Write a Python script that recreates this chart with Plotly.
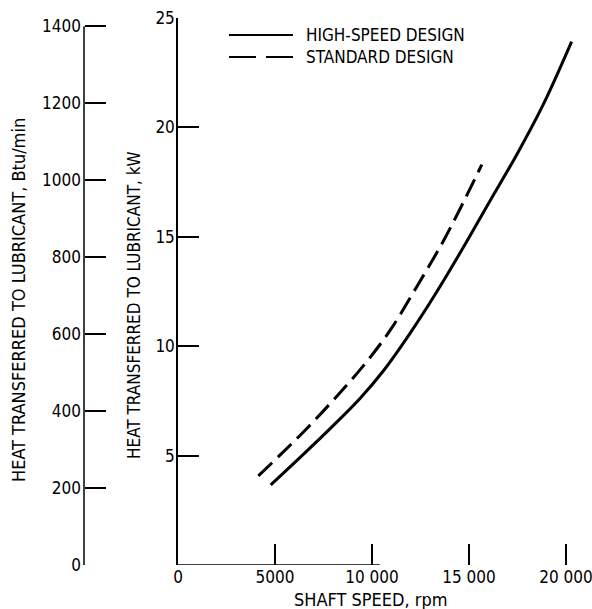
import plotly.graph_objects as go

# ---- data ----
series_names = ["HIGH-SPEED DESIGN", "STANDARD DESIGN"]
high_rpm = [4780, 6500, 8000, 9380, 10600, 11960, 13340, 14710, 16080, 17460, 18830, 20290]
high_kw = [3.66, 5.09, 6.37, 7.61, 8.89, 10.59, 12.49, 14.52, 16.64, 18.75, 21.05, 23.92]
std_rpm = [4140, 5430, 6630, 8000, 9550, 10930, 12300, 13680, 14710, 15660]
std_kw = [4.07, 5.17, 6.23, 7.53, 9.10, 10.72, 12.71, 14.81, 16.58, 18.30]

x_tickvals = [0, 5000, 10000, 15000, 20000]
x_ticktext = ["0", "5000", "10 000", "15 000", "20 000"]
kw_tickvals = [5, 10, 15, 20, 25]
btu_tickvals = [0, 200, 400, 600, 800, 1000, 1200, 1400]
BTU_PER_KW = 56.87

FONT = "Liberation Sans Narrow, DejaVu Sans Condensed, Arial Narrow, sans-serif"
W, H = 592, 609
ML, MR, MT, MB = 0, 0, 18, 44
PH = H - MT - MB
x0_px = 178.0
px_per_rpm = 0.0194
x_max = (W - x0_px) / px_per_rpm


def px_x(px):
    return px / W


def px_y(py):
    return (H - MB - py) / PH


fig = go.Figure()
fig.add_trace(go.Scatter(x=high_rpm, y=high_kw, mode="lines", name=series_names[0],
                         line=dict(color="black", width=3, shape="spline", smoothing=1.0),
                         showlegend=False))
fig.add_trace(go.Scatter(x=std_rpm, y=std_kw, mode="lines", name=series_names[1],
                         line=dict(color="black", width=3, shape="spline", smoothing=1.0,
                                   dash="19px,8px"),
                         showlegend=False))

axis_font = dict(family=FONT, size=17, color="black")

fig.update_layout(
    width=W, height=H,
    margin=dict(l=ML, r=MR, t=MT, b=MB, pad=0, autoexpand=False),
    paper_bgcolor="white", plot_bgcolor="white",
    xaxis=dict(domain=[x0_px / W, 1], range=[0, x_max], showgrid=False, zeroline=False,
               showline=False, tickmode="array", tickvals=x_tickvals, ticktext=x_ticktext,
               ticks="inside", ticklen=21, tickwidth=1.5, tickcolor="black",
               tickfont=axis_font, automargin=False, ticklabeloverflow="allow"),
    yaxis=dict(range=[0, 25], showgrid=False, zeroline=False, showline=True,
               linecolor="black", linewidth=1.5, tickmode="array", tickvals=kw_tickvals,
               ticks="inside", ticklen=21, tickwidth=1.5, tickcolor="black",
               tickfont=axis_font, automargin=False, ticklabelstandoff=-2),
    yaxis2=dict(overlaying="y", anchor="free", position=84 / W, side="left",
                range=[0, 25 * BTU_PER_KW], showgrid=False, zeroline=False, showline=False,
                tickmode="array", tickvals=btu_tickvals, ticks="inside", ticklen=21,
                tickwidth=1.5, tickcolor="black", tickfont=axis_font, automargin=False,
                ticklabelstandoff=3),
    showlegend=False,
)

# invisible helper so yaxis2 is drawn
fig.add_trace(go.Scatter(x=[None], y=[None], yaxis="y2", showlegend=False, hoverinfo="skip"))

shapes = []
# Btu axis line (0 to 1400)
shapes.append(dict(type="line", xref="paper", yref="y2", x0=84 / W, x1=84 / W,
                   y0=btu_tickvals[0], y1=btu_tickvals[-1], line=dict(color="black", width=1.5)))
# x axis base line (partially visible in the scan)
shapes.append(dict(type="line", xref="x", yref="y", x0=0, x1=10400, y0=0, y1=0,
                   line=dict(color="black", width=1.5)))
# legend samples
shapes.append(dict(type="line", xref="paper", yref="paper", x0=px_x(229), x1=px_x(293),
                   y0=px_y(35), y1=px_y(35), line=dict(color="black", width=2)))
shapes.append(dict(type="line", xref="paper", yref="paper", x0=px_x(229), x1=px_x(293),
                   y0=px_y(57), y1=px_y(57), line=dict(color="black", width=2, dash="27px,10px")))
fig.update_layout(shapes=shapes)

ann = []
for name, py in zip(series_names, [35, 57]):
    ann.append(dict(text=name, xref="paper", yref="paper", x=px_x(304), y=px_y(py),
                    xanchor="left", yanchor="middle", showarrow=False,
                    font=dict(family=FONT, size=17, color="black")))
ann.append(dict(text="SHAFT SPEED, rpm", xref="paper", yref="paper", x=px_x(371), y=px_y(600),
                xanchor="center", yanchor="middle", showarrow=False,
                font=dict(family=FONT, size=18, color="black")))
ann.append(dict(text="HEAT TRANSFERRED TO LUBRICANT, Btu/min", xref="paper", yref="paper",
                x=px_x(19), y=px_y(300), xanchor="center", yanchor="middle", textangle=-90,
                showarrow=False, font=dict(family=FONT, size=18, color="black")))
ann.append(dict(text="HEAT TRANSFERRED TO LUBRICANT, kW", xref="paper", yref="paper",
                x=px_x(134), y=px_y(305), xanchor="center", yanchor="middle", textangle=-90,
                showarrow=False, font=dict(family=FONT, size=17, color="black")))
fig.update_layout(annotations=ann)

fig.write_html("out.html")
